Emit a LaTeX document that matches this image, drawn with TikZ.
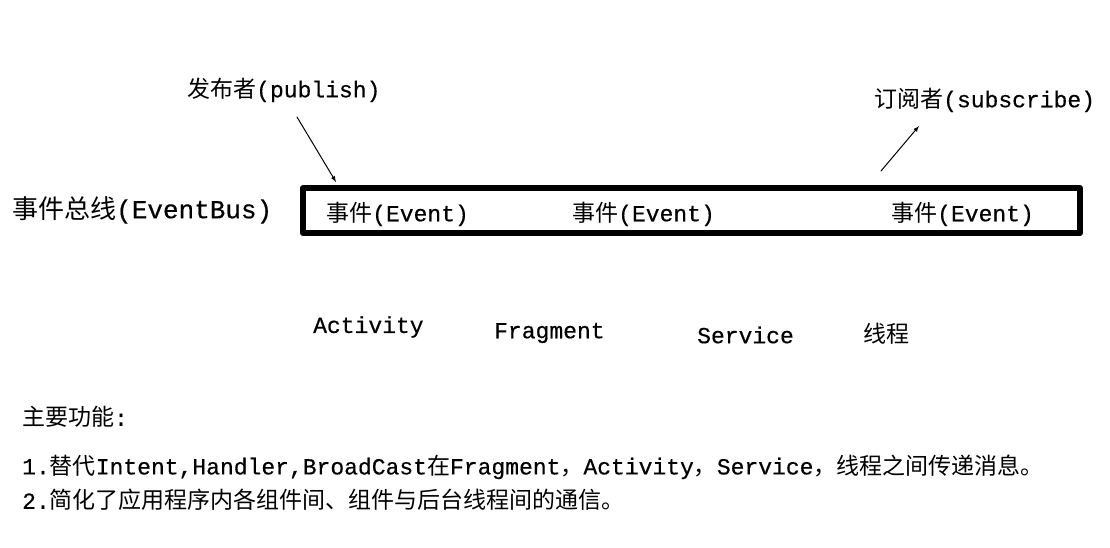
\documentclass[tikz,border=0pt]{standalone}
\usepackage{fontspec}
\setmainfont{Liberation Mono}[FakeBold=0.5]
\newfontfamily\cjk{Noto Sans CJK SC}
\newcommand\zh[1]{{\cjk #1}}
\tikzset{
  lbl/.style={anchor=west, inner sep=0pt, font=\fontsize{23}{27}\selectfont},
  biglbl/.style={lbl, font=\fontsize{26}{30}\selectfont},
  bus/.style={draw, line width=6pt, minimum width=777pt, minimum height=45pt, inner sep=0pt},
  link/.style={->, line width=1pt}
}
\begin{document}
\begin{tikzpicture}[x=1pt,y=-1pt,line cap=round,line join=round,>=latex]
\useasboundingbox (0,0) rectangle (1110,548);
% event bus
\node [biglbl] (busname) at (12,210) {\zh{事件总线}(EventBus)};
\node [bus] (bus) at (691.5,210.5) {};
\node [lbl] (e1) at (326,214) {\zh{事件}(Event)};
\node [lbl] (e2) at (572,214) {\zh{事件}(Event)};
\node [lbl] (e3) at (891,214) {\zh{事件}(Event)};
% publisher and subscriber
\node [lbl] (pub) at (187,90) {\zh{发布者}(publish)};
\node [lbl] (sub) at (874,100) {\zh{订阅者}(subscribe)};
\coordinate (pubfrom) at (297,117);
\coordinate (pubto) at (336,182);
\coordinate (subfrom) at (881,171);
\coordinate (subto) at (919,126);
\draw [link] (pubfrom) -- (pubto);
\draw [link] (subfrom) -- (subto);
% components
\node [lbl] (act) at (313,327) {Activity};
\node [lbl] (frag) at (494,333) {Fragment};
\node [lbl] (serv) at (697,335) {Service};
\node [lbl] (thr) at (863,334) {\zh{线程}};
% main functions
\node [lbl] (title) at (22,417) {\zh{主要功能}:};
\node [lbl] (f1) at (22,467) {1.\zh{替代}Intent,Handler,BroadCast\zh{在}Fragment\zh{，}Activity\zh{，}Service\zh{，线程之间传递消息。}};
\node [lbl] (f2) at (22,500) {2.\zh{简化了应用程序内各组件间、组件与后台线程间的通信。}};
\end{tikzpicture}
\end{document}
